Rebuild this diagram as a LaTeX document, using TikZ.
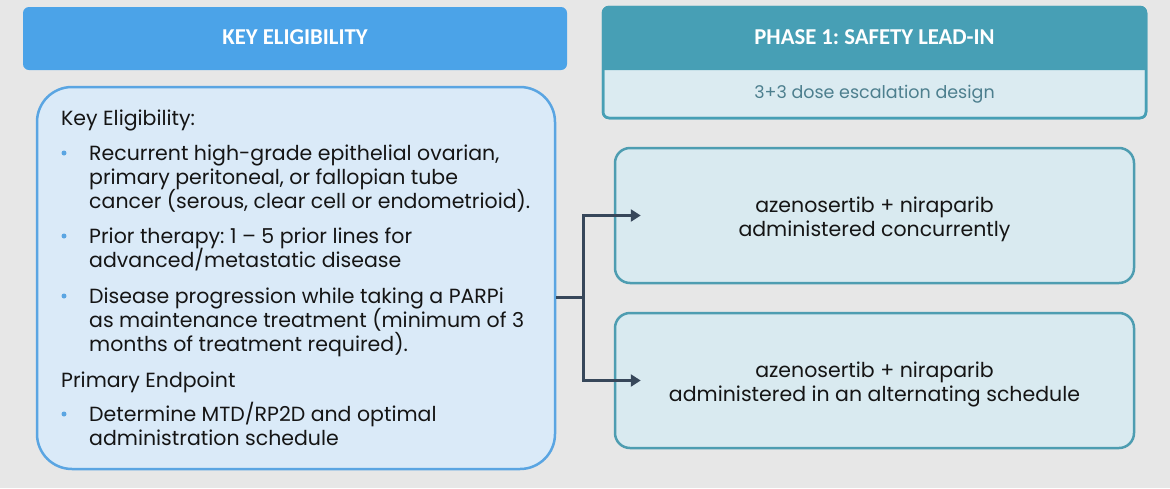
\documentclass[tikz,border=0pt]{standalone}
\usepackage{fontspec}
\setmainfont{Poppins}
\newfontfamily\headfont{Carlito}
\usetikzlibrary{arrows.meta,calc}
\definecolor{bg}{HTML}{E7E7E7}
\definecolor{headblue}{HTML}{4BA3E8}
\definecolor{lbfill}{HTML}{DAEAF8}
\definecolor{lbborder}{HTML}{5AA5E2}
\definecolor{tealhead}{HTML}{479FB5}
\definecolor{teallight}{HTML}{DBEBF1}
\definecolor{tealtext}{HTML}{4D7F8E}
\definecolor{rbfill}{HTML}{D9EAF0}
\definecolor{rbborder}{HTML}{4E9DB1}
\definecolor{arrowc}{HTML}{37475A}
\definecolor{bulletc}{HTML}{5AA5E2}
\definecolor{textc}{HTML}{151515}
\frenchspacing
\begin{document}
\begin{tikzpicture}[x=1pt,y=-1pt,
  headtext/.style={font=\headfont\bfseries\fontsize{22.7}{26}\selectfont, text=white, inner sep=0},
  bodyline/.style={anchor=base west, inner sep=0, text=textc, font=\fontsize{20.5}{24}\selectfont},
  bulletdot/.style={circle, fill=bulletc, inner sep=0, minimum size=5},
  armbox/.style={draw=rbborder, fill=rbfill, line width=2.5, rounded corners=15, minimum width=519, minimum height=135, inner sep=0},
  armtext/.style={align=center, text=textc, font=\fontsize{20.5}{24}\selectfont, inner sep=0},
  conn/.style={draw=arrowc, line width=3},
  arrowhead/.style={-{Triangle[length=10,width=12]}}
]
\fill[bg] (0,0) rectangle (1170,488);
\useasboundingbox (0,0) rectangle (1170,488);

% left header
\node[fill=headblue, rounded corners=6, minimum width=544, minimum height=63, inner sep=0] (h1) at (295,38.5) {};
\node[headtext] (h1t) at (295,37) {KEY ELIGIBILITY};

% right header
\node[draw=tealhead, fill=teallight, line width=2.5, rounded corners=6, minimum width=543, minimum height=111, inner sep=0] (h2) at (874.5,62.5) {};
\fill[tealhead] (603,70) [rounded corners=6] -- (603,7) -- (1146,7) [sharp corners] -- (1146,70) -- cycle;
\draw[tealhead, line width=2.5, rounded corners=6] (603,7) rectangle (1146,118);
\node[headtext] (h2t) at (874.5,37) {PHASE 1: SAFETY LEAD-IN};
\node[inner sep=0, text=tealtext, font=\fontsize{17.5}{20}\selectfont] (h2s) at (874.5,94) {3+3 dose escalation design};

% left box
\node[draw=lbborder, fill=lbfill, line width=2.5, rounded corners=35, minimum width=518, minimum height=382, inner sep=0] (lb) at (296,278) {};

\node[bodyline] (l1) at (61,125) {Key Eligibility:};
\node[bulletdot] (b1) at (64,153) {};
\node[bodyline] (l2) at (89,160) {Recurrent high-grade epithelial ovarian,};
\node[bodyline] (l3) at (89,184) {primary peritoneal, or fallopian tube};
\node[bodyline] (l4) at (89,208) {cancer (serous, clear cell or endometrioid).};
\node[bulletdot] (b2) at (64,236) {};
\node[bodyline] (l5) at (89,243) {Prior therapy: 1 -- 5 prior lines for};
\node[bodyline] (l6) at (89,267) {advanced/metastatic disease};
\node[bulletdot] (b3) at (64,296) {};
\node[bodyline] (l7) at (89,303) {Disease progression while taking a PARPi};
\node[bodyline] (l8) at (89,327) {as maintenance treatment (minimum of 3};
\node[bodyline] (l9) at (89,351) {months of treatment required).};
\node[bodyline] (l10) at (61,387) {Primary Endpoint};
\node[bulletdot] (b4) at (64,414) {};
\node[bodyline] (l11) at (89,421) {Determine MTD/RP2D and optimal};
\node[bodyline] (l12) at (89,445) {administration schedule};

% right boxes
\node[armbox] (c1) at (874.5,215.5) {};
\node[armtext] (c1t) at (874.5,219) {azenosertib + niraparib\\administered concurrently};
\node[armbox] (c2) at (874.5,380.5) {};
\node[armtext] (c2t) at (874.5,384) {azenosertib + niraparib\\administered in an alternating schedule};

% connectors
\coordinate (split) at (583,297);
\coordinate (e1) at ($(c1.west)+(27,0)$);
\coordinate (e2) at ($(c2.west)+(27,0)$);
\draw[conn] (lb.east |- split) -- (split);
\draw[conn, arrowhead] ($(split)+(0,1.5)$) |- (e1);
\draw[conn, arrowhead] ($(split)+(0,-1.5)$) |- (e2);
\end{tikzpicture}
\end{document}
